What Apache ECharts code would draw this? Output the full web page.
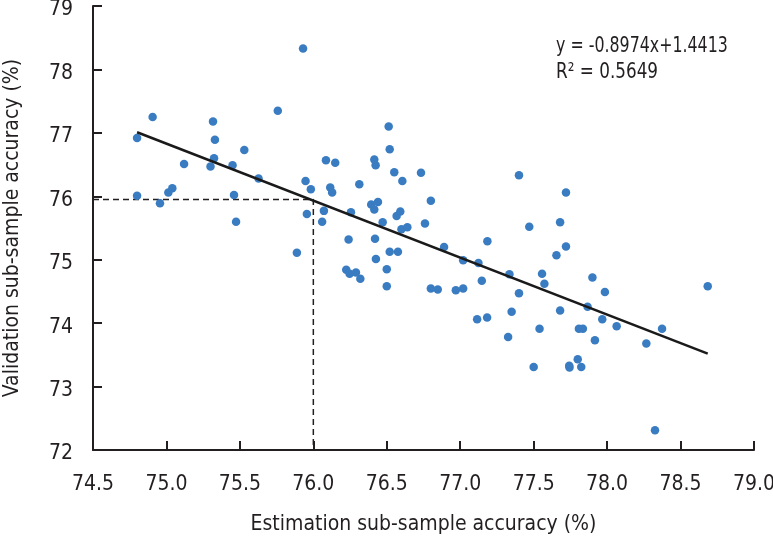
<!DOCTYPE html>
<html>
<head>
<meta charset="utf-8">
<script src="https://cdn.jsdelivr.net/npm/echarts@6/dist/echarts.min.js"></script>
<style>
html,body{margin:0;padding:0;background:#fff;}
#main{width:773px;height:540px;}
</style>
</head>
<body>
<div id="main"></div>
<script>
// Estimation sub-sample accuracy (%)
var estX = [74.80,74.906,74.80,74.956,75.013,75.04,75.12,75.30,75.317,75.33,
  75.324,75.45,75.46,75.53,75.474,75.627,75.758,75.93,75.947,75.983,
  75.956,75.888,76.086,76.149,76.115,76.128,76.072,76.06,76.256,76.313,
  76.394,76.415,76.44,76.415,76.424,76.513,76.52,76.551,76.606,76.733,
  76.80,76.567,76.592,76.472,76.60,76.64,76.76,77.40,77.47,77.68,
  77.72,76.24,76.42,76.52,76.576,76.426,76.50,76.50,76.224,76.247,
  76.29,76.32,76.80,76.847,76.89,76.97,77.02,77.02,77.124,77.147,
  77.185,77.115,77.183,77.335,77.40,77.35,77.326,77.50,77.557,77.573,
  77.54,77.655,77.68,77.72,77.90,77.985,77.867,77.967,78.065,77.808,
  77.835,77.917,77.80,77.742,77.744,77.824,78.267,78.374,78.685,78.326];
// Validation sub-sample accuracy (%)
var valY = [76.92,77.25,76.01,75.89,76.06,76.125,76.51,76.47,77.18,76.89,
  76.60,76.49,76.02,76.73,75.60,76.28,77.35,78.33,76.24,76.11,
  75.72,75.11,76.57,76.53,76.14,76.06,75.77,75.60,75.75,76.19,
  75.87,75.79,75.91,76.58,76.49,77.10,76.74,76.38,76.24,76.37,
  75.93,75.69,75.76,75.59,75.48,75.51,75.57,76.33,75.52,75.59,
  76.06,75.32,75.33,75.125,75.125,75.01,74.85,74.58,74.84,74.78,
  74.80,74.70,74.545,74.53,75.20,74.52,74.545,74.99,74.95,74.67,
  75.29,74.06,74.09,74.77,74.47,74.18,73.78,73.31,74.78,74.62,
  73.91,75.07,74.20,75.21,74.72,74.49,74.26,74.06,73.95,73.91,
  73.91,73.73,73.43,73.33,73.30,73.31,73.68,73.91,74.58,72.31];
// Fitted line end points
var fitX = [74.80, 78.685];
var fitY = [77.01, 73.52];
// Reference dashed guide (x = 76.0 -> y = 75.95)
var guideX = [74.5, 76.0, 76.0];
var guideY = [75.95, 75.95, 72];
var xTicks = {min: 74.5, max: 79.0, interval: 0.5};
var yTicks = {min: 72, max: 79, interval: 1};
var eqText = ['y = -0.8974x+1.4413', 'R² = 0.5649'];

function zip(a, b){ return a.map(function(v,i){ return [v, b[i]]; }); }

var FONT = "'DejaVu Sans Condensed','Liberation Sans Narrow',sans-serif";
var axisCol = '#231f20';

var chart = echarts.init(document.getElementById('main'), null, {renderer:'canvas'});
chart.setOption({
  animation: false,
  backgroundColor: '#ffffff',
  grid: {left: 93, right: 19, top: 6, bottom: 90, containLabel: false, outerBoundsMode: 'none'},
  xAxis: {
    type: 'value', min: xTicks.min, max: xTicks.max, interval: xTicks.interval,
    name: 'Estimation sub-sample accuracy (%)', nameLocation: 'middle', nameGap: 64,
    nameTextStyle: {fontFamily: FONT, fontSize: 21, color: '#231f20'},
    axisLine: {show: true, lineStyle: {color: axisCol, width: 2}},
    axisTick: {show: true, inside: true, length: 9, lineStyle: {color: axisCol, width: 2}},
    axisLabel: {fontFamily: FONT, fontSize: 21, color: '#231f20', margin: 24,
      formatter: function(v){ return v.toFixed(1); }},
    splitLine: {show: false}
  },
  yAxis: {
    type: 'value', min: yTicks.min, max: yTicks.max, interval: yTicks.interval,
    name: 'Validation sub-sample accuracy (%)', nameLocation: 'middle', nameGap: 70,
    nameTextStyle: {fontFamily: FONT, fontSize: 21, color: '#231f20'},
    axisLine: {show: true, lineStyle: {color: axisCol, width: 2}},
    axisTick: {show: true, inside: true, length: 9, lineStyle: {color: axisCol, width: 2}},
    axisLabel: {fontFamily: FONT, fontSize: 21, color: '#231f20', margin: 20,
      verticalAlign: 'top', lineHeight: 8},
    splitLine: {show: false}
  },
  series: [
    {
      type: 'line', data: zip(guideX, guideY), symbol: 'none',
      lineStyle: {color: '#231f20', width: 1.5, type: [6, 4]}, z: 1, silent: true
    },
    {
      type: 'scatter', data: zip(estX, valY), symbol: 'circle', symbolSize: 8.5,
      itemStyle: {color: '#3a7cc1', opacity: 1}, z: 2
    },
    {
      type: 'line', data: zip(fitX, fitY), symbol: 'none',
      lineStyle: {color: '#1a1a1a', width: 2.5}, z: 3, silent: true
    }
  ],
  graphic: [
    {type: 'text', x: 556, y: 35, scaleX: 0.8, style: {text: eqText[0], font: '22px ' + FONT, fill: '#231f20'}},
    {type: 'text', x: 556, y: 61, scaleX: 0.85, style: {text: eqText[1], font: '22px ' + FONT, fill: '#231f20'}}
  ]
});
</script>
</body>
</html>
